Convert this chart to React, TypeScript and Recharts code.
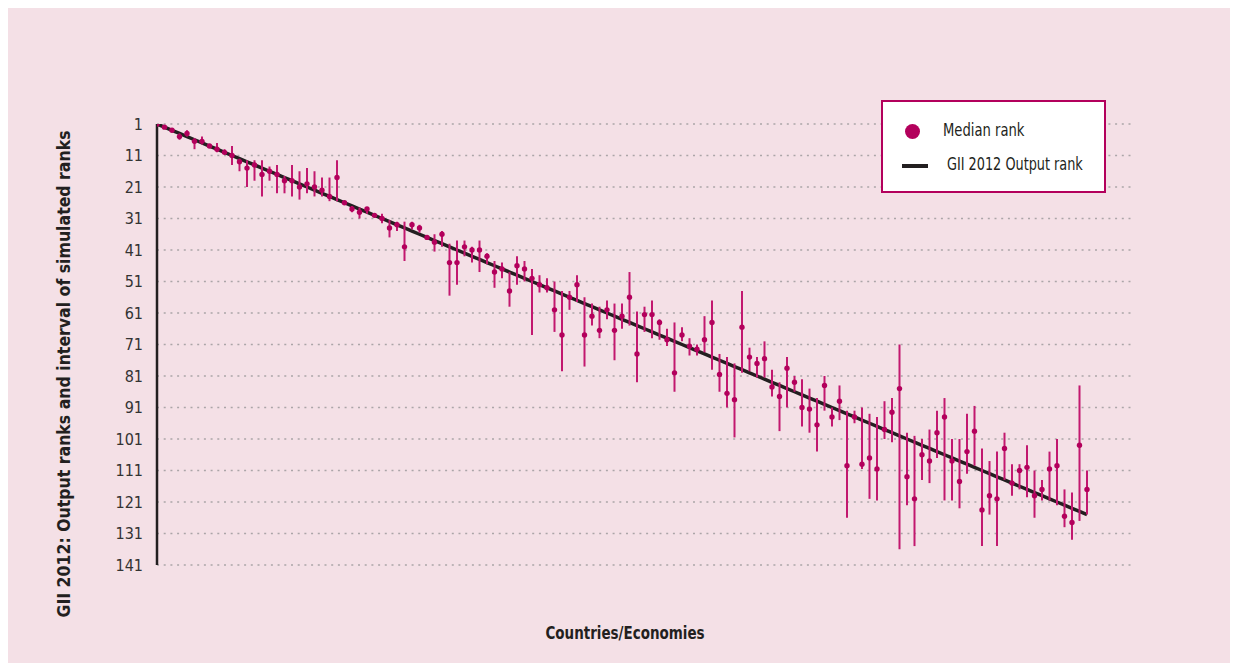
import React from 'react';
import {
    ComposedChart,
    Scatter,
    Line,
    ErrorBar,
    XAxis,
    YAxis,
    CartesianGrid
} from 'recharts';

// median rank per economy, ordered by GII 2012 output rank
const medianRank = [
    1, 2, 3, 5, 4, 6.5, 6.5, 8, 9, 10,
    11, 13, 15, 14, 17, 16, 17, 19, 19, 21,
    20, 21, 22, 24, 18, 26, 28, 29, 28, 30,
    31, 34, 33, 40, 33, 34, 37, 38.5, 36, 45,
    45, 40, 41, 41, 43, 48, 47, 54, 46, 47,
    50, 52, 53, 60, 68, 56, 52, 68, 62, 66.5,
    60, 66.5, 62, 56, 74, 61.5, 61.5, 64, 69.5, 80,
    68, 71.5, 72.5, 69.5, 64, 80.5, 86.5, 88.5, 65.5, 75,
    77, 75.5, 84.5, 87.5, 78.5, 83, 91, 91.5, 96.5, 84,
    94, 89, 109.5, 94, 109, 107, 110.5, 98, 92.5, 85,
    113, 120, 106, 108, 99, 94, 108, 114.5, 105, 98.5,
    123.5, 119, 120, 104, 115, 111, 110, 119, 117, 110.5,
    109.5, 125.5, 127.5, 103, 117
];

// best simulated rank (top of interval)
const minRank = [
    1, 2, 3, 4, 3, 5.5, 5, 8, 7, 9,
    8, 12, 12.5, 12.5, 12.5, 14.5, 14, 17.5, 14, 16,
    15, 16, 18, 18, 12.5, 26, 27, 27.5, 27.5, 30,
    29.5, 31.5, 32, 32, 32, 33, 37, 36, 35, 39,
    38, 38, 40, 38, 42, 44.5, 45, 48, 43, 44.5,
    47, 49, 50, 51, 54, 54, 49, 56, 58, 59,
    57, 58, 58, 48, 60.5, 59, 57, 63, 66, 64,
    65.5, 69, 71, 62, 57, 74, 75, 77, 54, 72,
    75, 70, 79, 83, 75, 81, 82, 85, 88, 81,
    91, 84, 92, 92, 91, 93, 94, 89, 88, 71,
    99, 100, 101, 98, 92, 88, 101, 101, 93, 90.5,
    104, 108, 105, 99, 109, 109, 103, 111, 114, 105,
    101, 117, 118, 84, 111
];

// worst simulated rank (bottom of interval)
const maxRank = [
    1, 2, 3, 6, 5, 9, 7.5, 8, 10, 10.5,
    14, 16, 21, 19, 24, 19, 23, 23, 24, 25,
    23, 24, 24, 25.5, 25.5, 26, 29, 31, 29.5, 30,
    32.5, 37, 35, 44.5, 34.5, 35.5, 37, 41.5, 40, 55.5,
    52, 43, 45, 48, 45.5, 53, 50, 59, 52, 51,
    68, 54.5, 54.5, 67, 79.5, 60, 57.5, 78, 65, 69,
    63, 76, 66, 65, 83, 67, 69, 69.5, 71.5, 86,
    70, 74.5, 74.5, 73.5, 79, 86, 91, 100.5, 80, 79.5,
    81.5, 81.5, 87.5, 98.5, 91, 86, 97, 99, 105, 92,
    97, 95, 126, 96, 110.5, 120, 120.5, 101, 102, 136,
    122, 135, 114, 115, 107, 120.5, 120.5, 123, 112, 109.5,
    135, 125, 135, 114, 119, 117, 119.5, 126, 120.5, 120.5,
    122, 129, 133, 127, 125
];

const yTicks = [1, 11, 21, 31, 41, 51, 61, 71, 81, 91, 101, 111, 121, 131, 141];

const FONT = "'Liberation Sans Narrow', 'DejaVu Sans Condensed', 'Roboto Condensed', sans-serif";
const MAGENTA = '#b3005c';
const BAR = '#c2186f';
const INK = '#231f20';

const data = medianRank.map((m, i) => ({
    rank: i + 1,
    median: m,
    err: [m - minRank[i], maxRank[i] - m]
}));

const Dot = (props: any) => <circle cx={props.cx} cy={props.cy} r={2.7} fill={MAGENTA} />;

const squeeze = (x: number): React.CSSProperties => ({
    transform: `scaleX(${x})`, transformOrigin: 'left center', whiteSpace: 'nowrap'
});

const LegendBox = () => (
    <div style={{
        position: 'absolute', left: 881, top: 100, width: 225, height: 93, boxSizing: 'border-box',
        background: '#fff', border: `2px solid ${MAGENTA}`, fontFamily: FONT, fontSize: 17, color: INK
    }}>
        <span style={{ position: 'absolute', left: 22, top: 22, width: 15, height: 15, borderRadius: '50%', background: MAGENTA }} />
        <span style={{ position: 'absolute', left: 60, top: 18, ...squeeze(0.86) }}>Median rank</span>
        <span style={{ position: 'absolute', left: 19, top: 62, width: 26, height: 4, background: INK }} />
        <span style={{ position: 'absolute', left: 64, top: 52, ...squeeze(0.84) }}>GII 2012 Output rank</span>
    </div>
);

export default function App() {
    return (
        <div style={{ position: 'relative', width: 1238, height: 671, margin: -8, overflow: 'hidden', background: '#fff' }}>
            <div style={{ position: 'absolute', left: 4, top: 8, width: 1230, height: 659, background: '#f4e0e6' }} />
            <div style={{ position: 'absolute', left: 0, top: 0 }}>
                <ComposedChart
                    width={1238}
                    height={671}
                    data={data}
                    margin={{ top: 124, right: 106, bottom: 106, left: 97 }}
                >
                    <CartesianGrid vertical={false} stroke="#aba5a8" strokeWidth={1.5} strokeDasharray="2 4.7" />
                    <XAxis type="number" dataKey="rank" domain={[1, 131]} hide allowDataOverflow />
                    <YAxis
                        type="number"
                        domain={[1, 141]}
                        reversed
                        ticks={yTicks}
                        interval={0}
                        width={60}
                        allowDataOverflow
                        tickLine={false}
                        tickMargin={8}
                        axisLine={{ stroke: INK, strokeWidth: 2.5 }}
                        tick={{ fill: '#333', fontSize: 16, fontFamily: FONT }}
                    />
                    <Line
                        dataKey="rank"
                        type="linear"
                        dot={false}
                        stroke={INK}
                        strokeWidth={3.5}
                        isAnimationActive={false}
                    />
                    <Scatter dataKey="median" shape={Dot} isAnimationActive={false}>
                        <ErrorBar dataKey="err" direction="y" width={0} stroke={BAR} strokeWidth={2} isAnimationActive={false} />
                    </Scatter>
                </ComposedChart>
            </div>
            <LegendBox />
            <div style={{
                position: 'absolute', left: 64, top: 374, transform: 'translate(-50%, -50%) rotate(-90deg)',
                whiteSpace: 'nowrap', fontFamily: FONT, fontWeight: 'bold', fontSize: 17.5, color: INK
            }}>
                GII 2012: Output ranks and interval of simulated ranks
            </div>
            <div style={{
                position: 'absolute', left: 625, top: 633, transform: 'translate(-50%, -50%) scaleX(0.88)',
                whiteSpace: 'nowrap', fontFamily: FONT, fontWeight: 'bold', fontSize: 17, color: INK
            }}>
                Countries/Economies
            </div>
        </div>
    );
}
